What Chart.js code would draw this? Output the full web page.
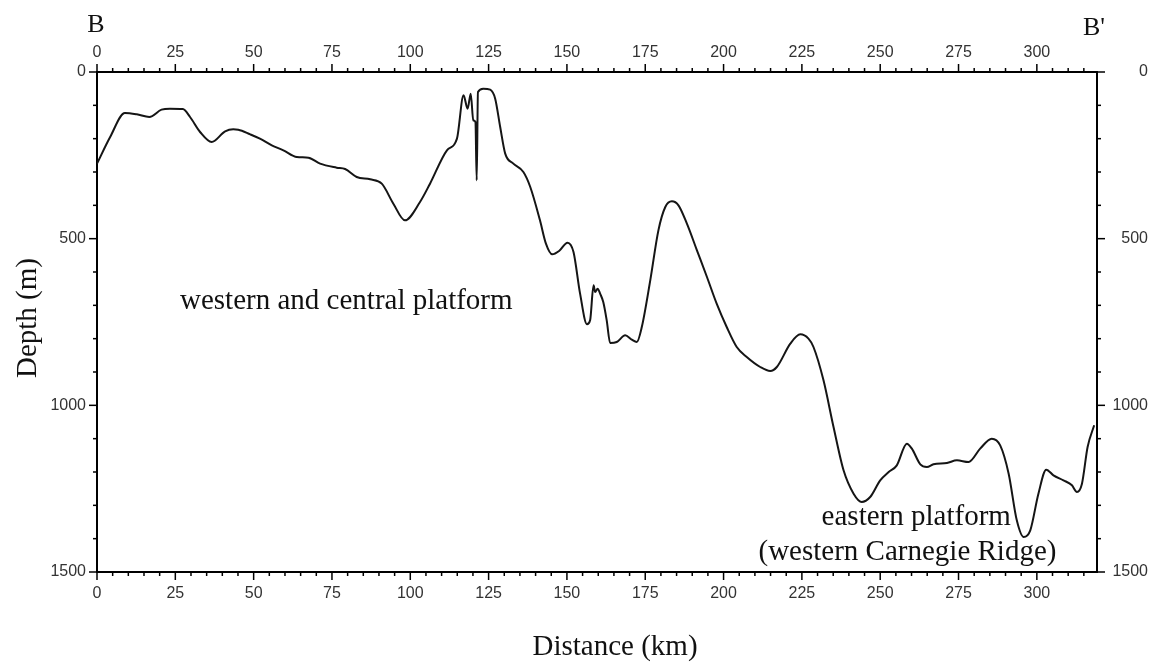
<!DOCTYPE html>
<html>
<head>
<meta charset="utf-8">
<script src="https://cdn.jsdelivr.net/npm/chart.js@4"></script>
<style>
  html, body { margin: 0; padding: 0; background: #fff; }
  #wrap { width: 1160px; height: 665px; }
</style>
</head>
<body>
<div id="wrap"><canvas id="profileChart" width="1160" height="665"></canvas></div>
<script>
// Bathymetric profile B - B'
const distanceKm = [
  0, 4.2, 8.9, 12.7, 16.7, 20.6, 23.3, 27.4, 29.7, 32.9,
  36.6, 40.9, 43.5, 45.1, 48.9, 52.0, 55.8, 59.5, 63.8, 67.5,
  71.2, 76.5, 79.2, 82.9, 87.2, 90.9, 94.6, 98.3, 103.1, 106.3,
  111.7, 114.9, 117.0, 118.3, 119.3, 120.1, 120.8, 121.2, 121.6, 123.3,
  125.5, 127.1, 128.7, 130.3, 132.9, 136.1, 138.3, 141.4, 143.3, 145.3,
  147.5, 150.2, 152.1, 154.2, 156.4, 157.4, 158.5, 159.0, 159.8, 160.6,
  161.6, 162.7, 163.8, 165.9, 168.6, 170.7, 172.3, 173.9, 176.6, 179.2,
  181.4, 183.5, 185.6, 188.3, 191.5, 194.7, 197.8, 201.0, 204.2, 207.4,
  211.7, 214.9, 217.0, 221.3, 224.5, 227.1, 228.7, 231.9, 235.1, 238.3,
  241.5, 244.1, 246.8, 250.0, 252.7, 255.3, 258.5, 260.1, 262.8, 264.9,
  267.0, 271.3, 274.5, 278.2, 281.9, 285.6, 288.3, 291.0, 293.6, 295.8,
  297.9, 300.5, 303.0, 305.3, 308.5, 311.2, 312.8, 314.4, 316.2, 318.3
];
const depthM = [
  275, 195, 123, 127, 135, 113, 110, 111, 135, 180,
  210, 178, 172, 173, 187, 200, 220, 235, 255, 257,
  275, 287, 291, 315, 322, 335, 395, 445, 390, 335,
  235, 200, 70, 110, 65, 145, 150, 325, 60, 50,
  53, 80, 165, 245, 275, 300, 345, 445, 515, 547,
  537, 512, 540, 665, 757, 745, 640, 660, 650, 665,
  690, 745, 813, 810, 790, 803, 810, 765, 625, 475,
  405, 388, 400, 455, 535, 615, 695, 765, 825, 855,
  885, 897, 885, 815, 787, 800, 825, 925, 1065, 1195,
  1265, 1290, 1275, 1225, 1200, 1180, 1115, 1130, 1177, 1185,
  1177, 1173, 1165, 1170, 1130, 1100, 1120, 1205, 1345, 1395,
  1375, 1265, 1193, 1210, 1225, 1240, 1260, 1235, 1125, 1060
];

const distanceLabels = [0, 25, 50, 75, 100, 125, 150, 175, 200, 225, 250, 275, 300];
const depthLabels = [0, 500, 1000, 1500];

const profileLength = 319.2;
const maxDepth = 1500;

const serif = 'Liberation Serif, Times New Roman, serif';
const sans = 'Liberation Sans, Arial, Helvetica, sans-serif';

// outward tick marks: long at labelled values, short otherwise
const tickMarks = {
  id: 'tickMarks',
  afterDraw(chart) {
    const c = chart.ctx;
    const area = chart.chartArea;
    c.save();
    c.strokeStyle = '#000';
    c.lineWidth = 1.5;
    Object.values(chart.scales).forEach(scale => {
      const labelled = scale.axis === 'x' ? distanceLabels : depthLabels;
      scale.ticks.forEach(t => {
        const len = labelled.includes(t.value) ? 8 : 4;
        const p = scale.getPixelForValue(t.value);
        c.beginPath();
        if (scale.position === 'bottom') { c.moveTo(p, area.bottom); c.lineTo(p, area.bottom + len); }
        if (scale.position === 'top') { c.moveTo(p, area.top); c.lineTo(p, area.top - len); }
        if (scale.position === 'left') { c.moveTo(area.left, p); c.lineTo(area.left - len, p); }
        if (scale.position === 'right') { c.moveTo(area.right, p); c.lineTo(area.right + len, p); }
        c.stroke();
      });
    });
    c.restore();
  }
};

// axis titles, section end letters and area names
const profileText = {
  id: 'profileText',
  afterDraw(chart) {
    const c = chart.ctx;
    const area = chart.chartArea;
    const x = chart.scales.x, y = chart.scales.y;
    c.save();
    c.fillStyle = '#111';
    c.textBaseline = 'alphabetic';

    c.font = '26px ' + serif;
    c.textAlign = 'center';
    c.fillText('B', area.left - 1, 32);
    c.fillText("B'", area.right - 3, 35);

    c.font = '29px ' + serif;
    c.fillText('Distance (km)', 615, 655);

    c.save();
    c.translate(28, 318);
    c.rotate(-Math.PI / 2);
    c.textBaseline = 'middle';
    c.fillText('Depth (m)', 0, 0);
    c.restore();

    c.textAlign = 'left';
    c.fillText('western and central platform', x.getPixelForValue(26.5), y.getPixelForValue(712));
    c.textAlign = 'center';
    c.fillText('eastern platform', x.getPixelForValue(261.5), y.getPixelForValue(1359));
    c.fillText('(western Carnegie Ridge)', x.getPixelForValue(258.7), y.getPixelForValue(1464));
    c.restore();
  }
};

function distanceAxis(position, pad, size) {
  return {
    type: 'linear',
    position: position,
    min: 0,
    max: profileLength,
    afterFit: s => { s.height = size; },
    border: { display: true, color: '#000', width: 2 },
    grid: { drawOnChartArea: false, drawTicks: false },
    ticks: {
      stepSize: 5,
      includeBounds: false,
      autoSkip: false,
      maxRotation: 0,
      padding: pad,
      color: '#333',
      font: { family: sans, size: 16 },
      callback: v => distanceLabels.includes(v) ? String(v) : ''
    }
  };
}

function depthAxis(position, pad, size) {
  return {
    type: 'linear',
    position: position,
    reverse: true,
    min: 0,
    max: maxDepth,
    afterFit: s => { s.width = size; },
    border: { display: true, color: '#000', width: 2 },
    grid: { drawOnChartArea: false, drawTicks: false },
    ticks: {
      stepSize: 100,
      autoSkip: false,
      padding: pad,
      crossAlign: position === 'right' ? 'far' : 'near',
      color: '#333',
      font: { family: sans, size: 16 },
      callback: v => depthLabels.includes(v) ? String(v) : ''
    }
  };
}

const profilePoints = distanceKm.map((d, i) => ({ x: d, y: depthM[i] }));

new Chart(document.getElementById('profileChart'), {
  type: 'line',
  data: {
    datasets: [{
      label: 'Depth',
      data: profilePoints,
      borderColor: '#151515',
      borderWidth: 2,
      pointRadius: 0,
      fill: false,
      cubicInterpolationMode: 'monotone'
    }]
  },
  options: {
    responsive: false,
    animation: false,
    devicePixelRatio: 1,
    layout: { padding: { left: 0, top: 0, bottom: 0, right: 12 } },
    plugins: {
      legend: { display: false },
      tooltip: { enabled: false }
    },
    scales: {
      x: distanceAxis('bottom', 12, 93),
      x2: distanceAxis('top', 10, 72),
      y: depthAxis('left', 11, 97),
      y2: depthAxis('right', 2, 51)
    }
  },
  plugins: [tickMarks, profileText]
});
</script>
</body>
</html>
